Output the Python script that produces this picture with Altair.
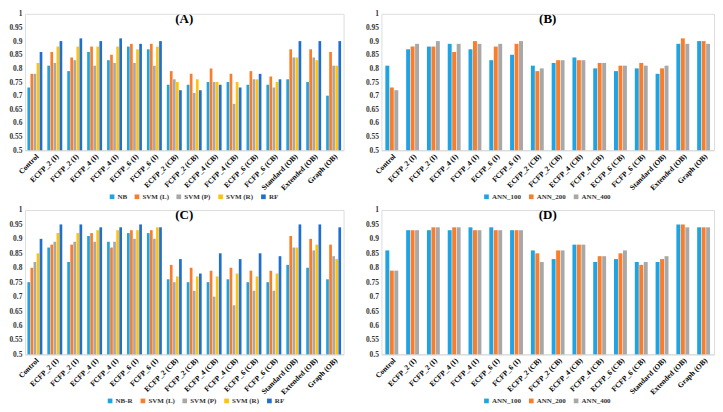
import altair as alt
import pandas as pd

categories = ["Control", "ECFP_2 (I)", "FCFP_2 (I)", "ECFP_4 (I)", "FCFP_4 (I)",
              "ECFP_6 (I)", "FCFP_6 (I)", "ECFP_2 (CB)", "FCFP_2 (CB)", "ECFP_4 (CB)",
              "FCFP_4 (CB)", "ECFP_6 (CB)", "FCFP_6 (CB)", "Standard (OB)",
              "Extended (OB)", "Graph (OB)"]

# Panel A
a_series = ["NB", "SVM (L)", "SVM (P)", "SVM (R)", "RF"]
a_NB   = [0.73, 0.81, 0.79, 0.86, 0.83, 0.88, 0.87, 0.74, 0.74, 0.75, 0.75, 0.74, 0.74, 0.76, 0.75, 0.70]
a_SVML = [0.78, 0.86, 0.84, 0.88, 0.85, 0.89, 0.89, 0.79, 0.78, 0.80, 0.78, 0.79, 0.77, 0.87, 0.87, 0.86]
a_SVMP = [0.78, 0.82, 0.83, 0.81, 0.82, 0.82, 0.81, 0.76, 0.71, 0.75, 0.67, 0.76, 0.73, 0.84, 0.84, 0.81]
a_SVMR = [0.82, 0.88, 0.88, 0.88, 0.88, 0.87, 0.88, 0.75, 0.76, 0.75, 0.75, 0.76, 0.75, 0.84, 0.83, 0.81]
a_RF   = [0.86, 0.90, 0.91, 0.90, 0.91, 0.89, 0.90, 0.72, 0.72, 0.74, 0.73, 0.78, 0.76, 0.90, 0.90, 0.90]

# Panel B
b_series = ["ANN_100", "ANN_200", "ANN_400"]
b_100 = [0.81, 0.87, 0.88, 0.89, 0.87, 0.83, 0.85, 0.81, 0.82, 0.84, 0.80, 0.79, 0.80, 0.78, 0.89, 0.90]
b_200 = [0.73, 0.88, 0.88, 0.86, 0.90, 0.88, 0.89, 0.79, 0.83, 0.83, 0.82, 0.81, 0.82, 0.80, 0.91, 0.90]
b_400 = [0.72, 0.89, 0.90, 0.89, 0.89, 0.89, 0.90, 0.80, 0.83, 0.83, 0.82, 0.81, 0.81, 0.81, 0.89, 0.89]

# Panel C
c_series = ["NB-R", "SVM (L)", "SVM (P)", "SVM (R)", "RF"]
c_NBR  = [0.75, 0.87, 0.82, 0.91, 0.89, 0.92, 0.92, 0.76, 0.75, 0.75, 0.76, 0.75, 0.75, 0.81, 0.80, 0.76]
c_SVML = [0.80, 0.88, 0.88, 0.92, 0.87, 0.93, 0.93, 0.81, 0.80, 0.79, 0.80, 0.79, 0.79, 0.91, 0.90, 0.88]
c_SVMP = [0.82, 0.89, 0.89, 0.89, 0.89, 0.90, 0.90, 0.75, 0.72, 0.70, 0.67, 0.72, 0.72, 0.87, 0.86, 0.84]
c_SVMR = [0.85, 0.92, 0.92, 0.93, 0.93, 0.93, 0.94, 0.77, 0.77, 0.77, 0.78, 0.77, 0.78, 0.87, 0.88, 0.83]
c_RF   = [0.90, 0.95, 0.95, 0.94, 0.94, 0.95, 0.94, 0.83, 0.78, 0.85, 0.83, 0.85, 0.84, 0.95, 0.95, 0.94]

# Panel D
d_100 = [0.86, 0.93, 0.93, 0.93, 0.94, 0.94, 0.93, 0.86, 0.83, 0.88, 0.82, 0.83, 0.82, 0.82, 0.95, 0.94]
d_200 = [0.79, 0.93, 0.94, 0.94, 0.93, 0.93, 0.93, 0.85, 0.86, 0.88, 0.84, 0.85, 0.81, 0.83, 0.95, 0.94]
d_400 = [0.79, 0.93, 0.94, 0.94, 0.93, 0.93, 0.93, 0.82, 0.86, 0.88, 0.84, 0.86, 0.82, 0.84, 0.94, 0.94]

y_ticks = [0.5, 0.55, 0.6, 0.65, 0.7, 0.75, 0.8, 0.85, 0.9, 0.95, 1.0]

colors5 = ["#1FA3E3", "#F97D2B", "#A8A8A8", "#FFC20E", "#1F6FD1"]
colors3 = ["#1FA3E3", "#F97D2B", "#A8A8A8"]

FONT = "Liberation Serif"


def long_df(series_names, arrays):
    rows = []
    for s, vals in zip(series_names, arrays):
        for c, v in zip(categories, vals):
            rows.append({"cat": c, "series": s, "value": v})
    return pd.DataFrame(rows)


def panel(df, series_names, colors, title, width, height, inner_pad, off_pad, legend_x):
    return alt.Chart(df).mark_bar().encode(
        x=alt.X("cat:N", sort=categories, title=None,
                scale=alt.Scale(paddingInner=inner_pad, paddingOuter=inner_pad / 2),
                axis=alt.Axis(labelAngle=-45, labelFont=FONT, labelFontWeight="bold",
                              labelFontSize=7.5, labelColor="#000000", ticks=False,
                              domainColor="#D9D9D9", labelPadding=2)),
        xOffset=alt.XOffset("series:N", sort=series_names,
                            scale=alt.Scale(domain=series_names, paddingInner=off_pad)),
        y=alt.Y("value:Q", title=None,
                scale=alt.Scale(domain=[0.5, 1.0], zero=False, nice=False),
                axis=alt.Axis(values=y_ticks, format="~g", grid=False, domain=False,
                              ticks=False, labelFont=FONT, labelFontWeight="bold",
                              labelFontSize=7.5, labelColor="#333333", labelPadding=3)),
        y2=alt.datum(0.5),
        color=alt.Color("series:N", sort=series_names,
                        scale=alt.Scale(domain=series_names, range=colors),
                        legend=alt.Legend(title=None, orient="none", direction="horizontal",
                                          legendX=legend_x, legendY=height + 43,
                                          symbolType="square", symbolSize=22,
                                          symbolStrokeWidth=0, labelOffset=2,
                                          labelFont=FONT, labelFontWeight="bold",
                                          labelFontSize=7, labelColor="#333333",
                                          columnPadding=6, padding=0)),
    ).properties(
        width=width, height=height,
        title=alt.TitleParams(title, font=FONT, fontSize=13, fontWeight="bold",
                              anchor="middle", offset=-16, color="#000000"),
    )


dfA = long_df(a_series, [a_NB, a_SVML, a_SVMP, a_SVMR, a_RF])
dfB = long_df(b_series, [b_100, b_200, b_400])
dfC = long_df(c_series, [c_NBR, c_SVML, c_SVMP, c_SVMR, c_RF])
dfD = long_df(b_series, [d_100, d_200, d_400])

pA = panel(dfA, a_series, colors5, "(A)", 320, 137, 0.25, 0.12, 84)
pB = panel(dfB, b_series, colors3, "(B)", 334, 137, 0.38, 0.12, 102)
pC = panel(dfC, c_series, colors5, "(C)", 320, 145, 0.25, 0.12, 82)
pD = panel(dfD, b_series, colors3, "(D)", 334, 145, 0.38, 0.12, 102)

res = dict(color="independent", x="independent", y="independent", xOffset="independent")
row1 = alt.hconcat(pA, pB, spacing=20).resolve_scale(**res)
row2 = alt.hconcat(pC, pD, spacing=20).resolve_scale(**res)

chart = alt.vconcat(row1, row2, spacing=4).resolve_scale(**res).configure_view(
    stroke=None).configure(padding=0, background="#FFFFFF")

chart.save("out.html", embed_options={"renderer": "svg", "actions": False})
